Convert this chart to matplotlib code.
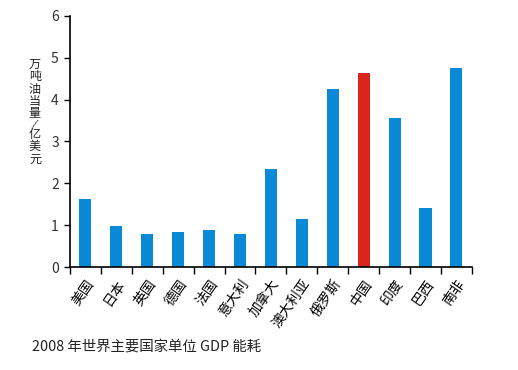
import matplotlib
matplotlib.use("Agg")
import matplotlib.pyplot as plt
import numpy as np

plt.rcParams['font.family'] = ['Noto Sans CJK SC', 'DejaVu Sans']

countries = ['美国', '日本', '英国', '德国', '法国', '意大利', '加拿大', '澳大利亚',
             '俄罗斯', '中国', '印度', '巴西', '南非']
values = [1.63, 0.99, 0.80, 0.83, 0.89, 0.80, 2.34, 1.15, 4.25, 4.63, 3.56, 1.42, 4.76]
highlight = '中国'
y_ticks = [0, 1, 2, 3, 4, 5, 6]
ylabel = '万吨油当量/亿美元'
caption = '2008 年世界主要国家单位 GDP 能耗'

blue = '#0a8ad6'
red = '#d9261c'

W, H = 518, 370
fig = plt.figure(figsize=(W / 100, H / 100), dpi=100)
ax = fig.add_axes([0.135, 0.2776, 0.776, 0.68])
x = np.arange(len(countries))
colors = [red if c == highlight else blue for c in countries]
ax.bar(x, values, width=0.39, color=colors)

ax.set_xlim(-0.5, len(countries) - 0.5)
ax.set_ylim(0, 6)
ax.set_yticks(y_ticks)
ax.set_yticklabels([str(t) for t in y_ticks], fontsize=10, color='#333333')
ax.set_xticks(np.arange(len(countries) + 1) - 0.5)
ax.set_xticklabels([])
ax.set_xticks(x, minor=True)
ax.set_xticklabels(countries, minor=True, rotation=55, ha='right', va='top',
                   rotation_mode='anchor', fontsize=10)
ax.tick_params(axis='x', which='minor', length=0, pad=7)
ax.tick_params(axis='x', which='major', direction='out', length=5, width=1)
ax.tick_params(axis='y', direction='out', length=4, width=1, pad=4)
for s in ['top', 'right']:
    ax.spines[s].set_visible(False)
for s in ['left', 'bottom']:
    ax.spines[s].set_linewidth(1.2)

# vertical stacked y label (upright characters)
label_px_y = [64, 76.5, 89, 101.5, 114, 124, 134, 146.5, 159]
for ch, py in zip(ylabel, label_px_y):
    fs = 8.7 if ch != '/' else 7.5
    fig.text(35 / W, 1 - py / H, ch, ha='center', va='center', fontsize=fs,
             rotation=0 if ch != '/' else -20, color='#222222')

fig.text(32 / W, 1 - 347 / H, caption, ha='left', va='center', fontsize=10.4,
         color='#222222')

fig.savefig('out.png', dpi=100)
